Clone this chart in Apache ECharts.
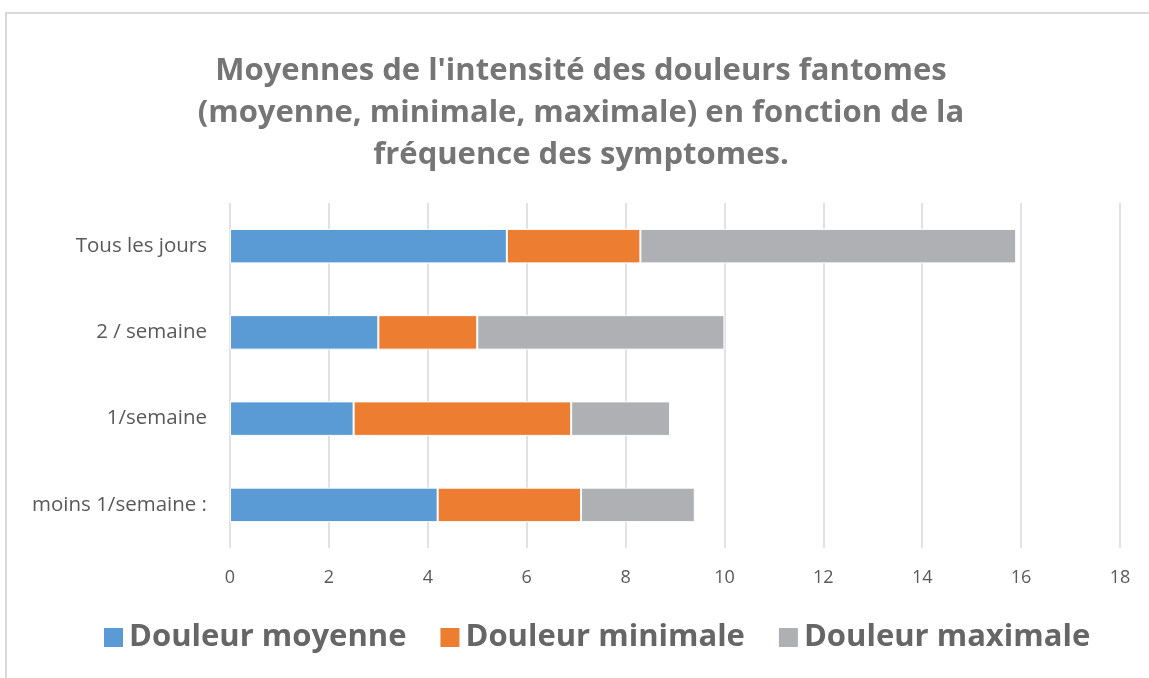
<!DOCTYPE html>
<html>
<head>
<meta charset="utf-8">
<script src="https://cdn.jsdelivr.net/npm/echarts@6/dist/echarts.min.js"></script>
<style>
  body { margin: 0; background: #fff; }
  .frame {
    position: absolute; left: 5px; top: 12px;
    width: 1200px; height: 720px;
    border: 2px solid #d9d9d9;
  }
  #chart { position: absolute; left: 0; top: 0; width: 1149px; height: 678px; }
</style>
</head>
<body>
<div class="frame"></div>
<div id="chart"></div>
<script>
// catégories (du bas vers le haut)
const categories = ['moins 1/semaine :', '1/semaine', '2 / semaine', 'Tous les jours']
const douleurMoyenne = [4.2, 2.5, 3, 5.6]
const douleurMinimale = [2.9, 4.4, 2, 2.7]
const douleurMaximale = [2.3, 2.0, 5, 7.6]
const seriesNames = ['Douleur moyenne', 'Douleur minimale', 'Douleur maximale']
const colors = ['#5B9BD5', '#ED7D31', '#AFB0B3']

const font = "'Open Sans', 'Noto Sans', sans-serif"
const chart = echarts.init(document.getElementById('chart'))

const makeSeries = (name, data, color) => ({
  name: name,
  type: 'bar',
  stack: 'total',
  barWidth: '40%',
  itemStyle: { color: color, borderColor: '#fff', borderWidth: 1 },
  data: data,
})

const option = {
  textStyle: { fontFamily: font },
  title: {
    text: "Moyennes de l'intensité des douleurs fantomes\n(moyenne, minimale, maximale) en fonction de la\nfréquence des symptomes.",
    left: 576,
    top: 45,
    textAlign: 'center',
    textStyle: {
      fontFamily: font,
      fontSize: 31,
      fontWeight: 'bold',
      color: '#757575',
      lineHeight: 42,
    },
  },
  legend: {
    bottom: 20,
    left: 97,
    itemWidth: 21,
    itemHeight: 21,
    itemGap: 32,
    icon: 'rect',
    textStyle: { fontFamily: font, fontSize: 31, fontWeight: 'bold', color: '#666666' },
    data: seriesNames,
  },
  grid: { left: 230, right: 29, top: 203, bottom: 130 },
  xAxis: {
    type: 'value',
    min: 0,
    max: 18,
    interval: 2,
    axisLine: { show: false },
    axisTick: { show: false },
    axisLabel: { color: '#595959', fontSize: 18, margin: 21, fontFamily: font },
    splitLine: { lineStyle: { color: '#d9d9d9', width: 1.5 } },
  },
  yAxis: {
    type: 'category',
    data: categories,
    axisLine: { show: false },
    axisTick: { show: false },
    axisLabel: { color: '#595959', fontSize: 20.5, margin: 23, fontFamily: font },
  },
  series: [
    makeSeries(seriesNames[0], douleurMoyenne, colors[0]),
    makeSeries(seriesNames[1], douleurMinimale, colors[1]),
    makeSeries(seriesNames[2], douleurMaximale, colors[2]),
  ],
}

chart.setOption(option)
</script>
</body>
</html>
